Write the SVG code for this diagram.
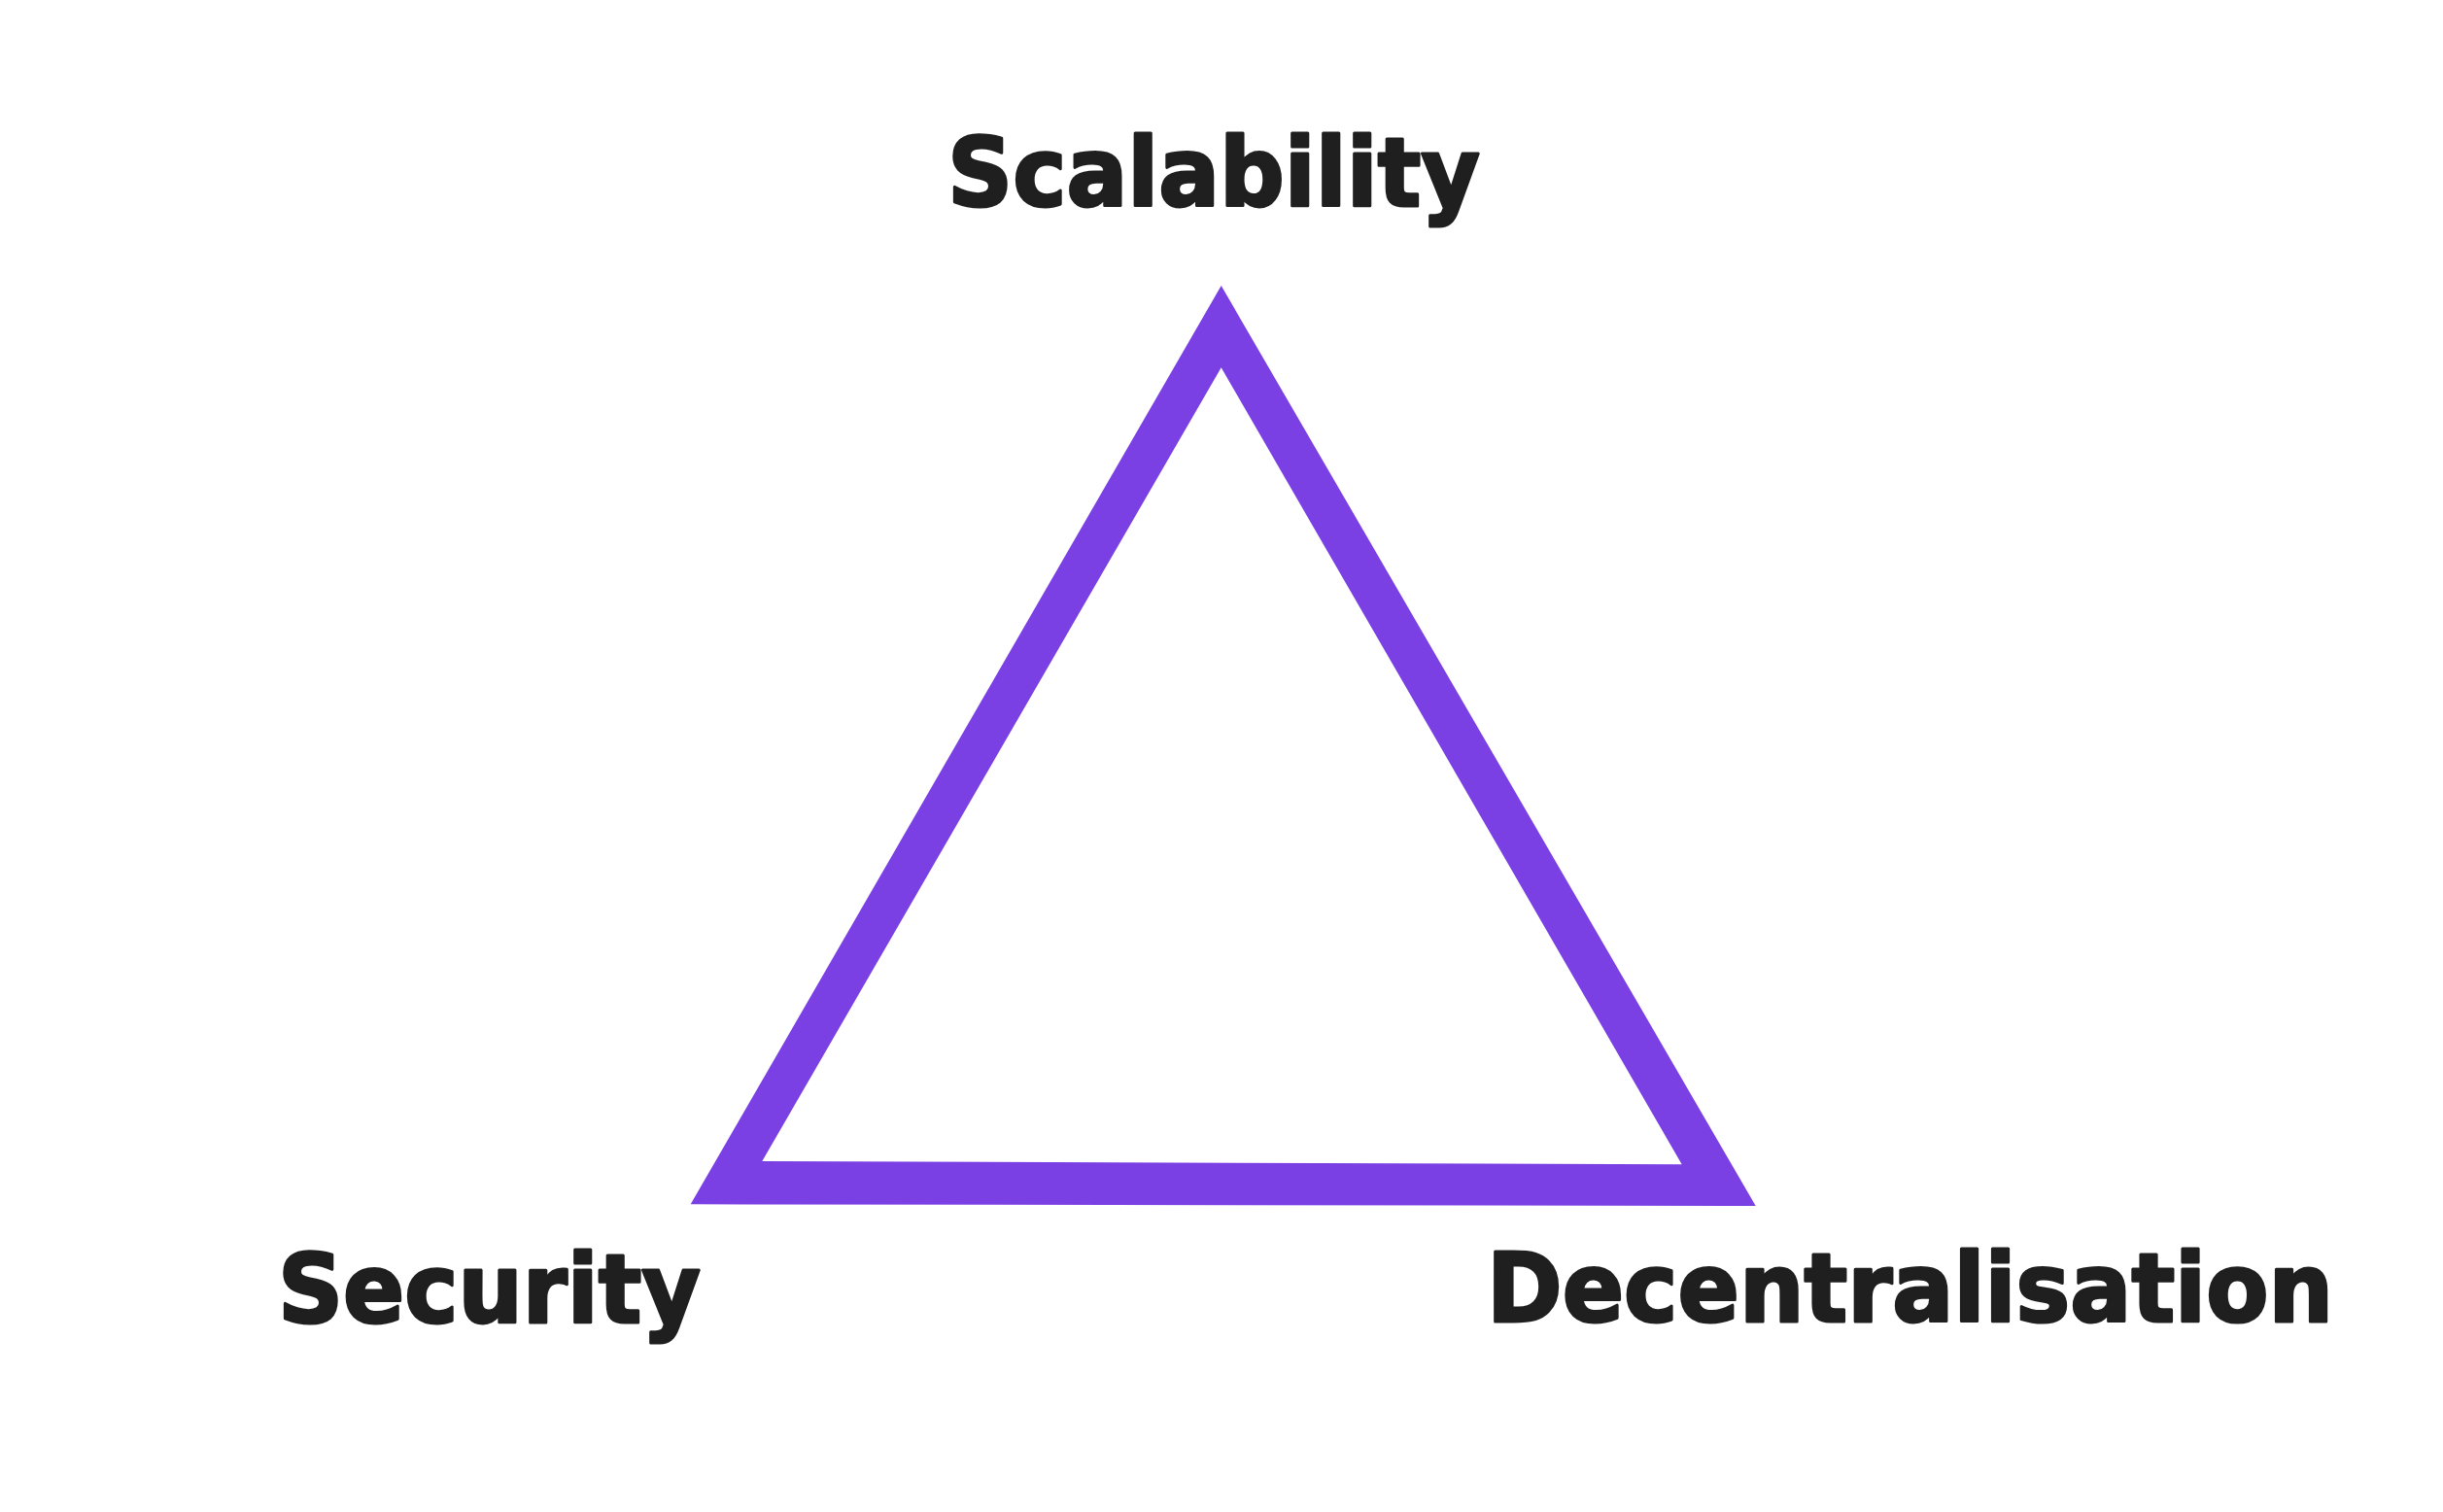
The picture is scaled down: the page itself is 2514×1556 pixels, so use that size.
<svg xmlns="http://www.w3.org/2000/svg" width="2514" height="1556" viewBox="0 0 2514 1556">
  <style>
    .label { font-family: "DejaVu Sans", "Liberation Sans", sans-serif; font-weight: bold; font-size: 98px; fill: #1f1f1f; stroke: #1f1f1f; stroke-width: 3; stroke-linejoin: round; }
    .tri { fill: #7b40e3; fill-rule: evenodd; }
  </style>
  <rect width="2514" height="1556" fill="#ffffff"/>
  <g id="connectors">
    <path class="tri" d="M1256.7,294 L1806.7,1241 L710.7,1239.3 Z M1256.7,378.3 L784.3,1195 L1730.7,1198.3 Z"/>
  </g>
  <g id="node-scalability">
    <text class="label" x="975" y="212" textLength="548" lengthAdjust="spacingAndGlyphs">Scalability</text>
  </g>
  <g id="node-security">
    <text class="label" x="286" y="1361" textLength="435" lengthAdjust="spacingAndGlyphs">Security</text>
  </g>
  <g id="node-decentralisation">
    <text class="label" x="1530" y="1360" textLength="871" lengthAdjust="spacingAndGlyphs">Decentralisation</text>
  </g>
</svg>
